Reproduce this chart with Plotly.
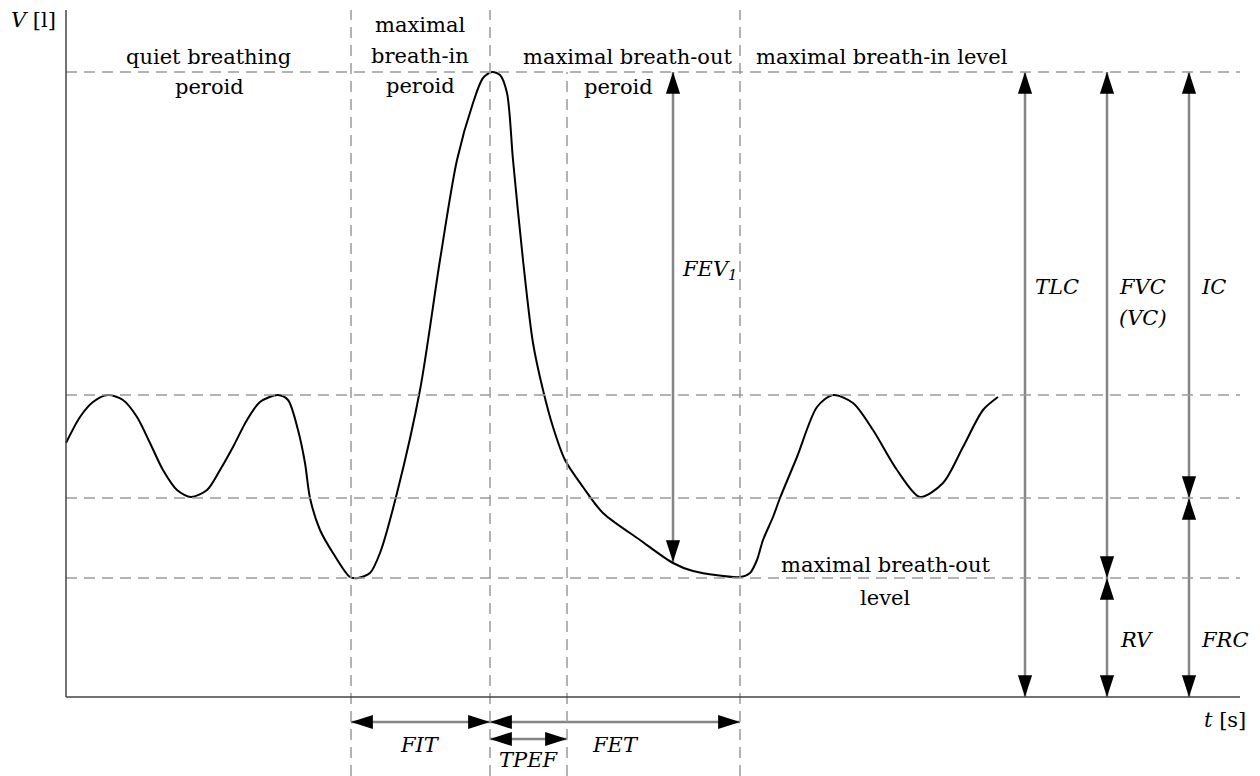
import plotly.graph_objects as go

# spirogram trace (t in s, V in l)
t_curve = [0.00, 0.14, 0.27, 0.42, 0.57, 0.71, 0.84, 0.97, 1.11, 1.25, 1.41, 1.54, 1.67, 1.81,
           1.94, 2.12, 2.22, 2.32, 2.39, 2.44, 2.54, 2.67, 2.84, 2.92, 3.04, 3.14, 3.31, 3.54,
           3.74, 3.91, 4.07, 4.17, 4.26, 4.34, 4.41, 4.47, 4.57, 4.67, 4.77, 4.87, 4.99, 5.17,
           5.37, 5.74, 6.07, 6.27, 6.74, 6.84, 6.91, 6.97, 7.07, 7.14, 7.31, 7.51, 7.67, 7.87,
           8.07, 8.31, 8.54, 8.77, 8.97, 9.17, 9.32]
v_curve = [2.54, 2.80, 2.95, 3.02, 2.97, 2.80, 2.54, 2.27, 2.07, 2.00, 2.07, 2.27, 2.50, 2.77,
           2.95, 3.02, 2.97, 2.67, 2.34, 1.99, 1.67, 1.44, 1.20, 1.19, 1.24, 1.44, 2.04, 3.07,
           4.37, 5.37, 5.94, 6.19, 6.25, 6.22, 6.04, 5.37, 4.37, 3.54, 3.07, 2.70, 2.37, 2.10,
           1.84, 1.57, 1.34, 1.26, 1.20, 1.24, 1.37, 1.57, 1.80, 1.99, 2.40, 2.90, 3.02, 2.94,
           2.67, 2.27, 2.00, 2.14, 2.50, 2.87, 3.00]

# volume levels
levels = [6.25, 3.02, 1.99, 1.19]  # TLC, tidal top, FRC, RV
# phase boundaries in time
phase_t = [2.85, 4.24, 5.01, 6.74]
phase_top = [6.87, 6.87, 6.25, 6.87]

# vertical double arrows: name, t, lower V, upper V
v_arrows = [
    ("TLC", 9.59, 0.0, 6.25),
    ("FVC", 10.41, 1.19, 6.25),
    ("RV", 10.41, 0.0, 1.19),
    ("IC", 11.23, 1.99, 6.25),
    ("FRC", 11.23, 0.0, 1.99),
    ("FEV1", 6.07, 1.35, 6.25),
]
# horizontal double arrows: name, V, left t, right t
h_arrows = [
    ("FIT", -0.25, 2.85, 4.24),
    ("FET", -0.25, 4.24, 6.74),
    ("TPEF", -0.42, 4.24, 5.01),
]

T_MAX = 11.74
V_MAX = 6.87
V_MIN = -0.79

fig = go.Figure()

# dashed guide lines
for lv in levels:
    fig.add_shape(type="line", x0=0, x1=T_MAX, y0=lv, y1=lv,
                  line=dict(color="#9a9a9a", width=1.5, dash="11px,7px"))
for pt, top in zip(phase_t, phase_top):
    fig.add_shape(type="line", x0=pt, x1=pt, y0=V_MIN, y1=top,
                  line=dict(color="#9a9a9a", width=1.5, dash="11px,7px"))

# axes
fig.add_shape(type="line", x0=0, x1=0, y0=0, y1=V_MAX, line=dict(color="#444", width=1.5))
fig.add_shape(type="line", x0=0, x1=T_MAX, y0=0, y1=0, line=dict(color="#444", width=1.5))

# arrow shafts
ax, ay = [], []
for _, t, lo, hi in v_arrows:
    ax += [t, t, None]
    ay += [lo, hi, None]
for _, v, lft, rgt in h_arrows:
    ax += [lft, rgt, None]
    ay += [v, v, None]
fig.add_trace(go.Scatter(x=ax, y=ay, mode="lines", line=dict(color="#858585", width=2.5),
                         hoverinfo="skip"))

# arrow heads
hx, hy, hang = [], [], []
for _, t, lo, hi in v_arrows:
    hx += [t, t]
    hy += [lo, hi]
    hang += [180, 0]
for _, v, lft, rgt in h_arrows:
    hx += [lft, rgt]
    hy += [v, v]
    hang += [270, 90]
fig.add_trace(go.Scatter(x=hx, y=hy, mode="markers",
                         marker=dict(symbol="arrow", size=23, angle=hang, color="black",
                                     line=dict(width=0)),
                         hoverinfo="skip"))

# curve
fig.add_trace(go.Scatter(x=t_curve, y=v_curve, mode="lines",
                         line=dict(color="black", width=2, shape="spline", smoothing=0.8),
                         hoverinfo="skip"))

FONT = dict(family="DejaVu Serif", size=21, color="black")


def label(text, x, y, xanchor="center"):
    fig.add_annotation(x=x, y=y, text=text, showarrow=False, xanchor=xanchor,
                       yanchor="middle", font=FONT)


label("<i>V</i> [l]", -0.08, 6.77, "right")
label("quiet breathing", 1.42, 6.40)
label("peroid", 1.43, 6.10)
label("maximal", 3.54, 6.72)
label("breath-in", 3.54, 6.41)
label("peroid", 3.54, 6.11)
label("maximal breath-out", 5.61, 6.40)
label("peroid", 5.52, 6.10)
label("maximal breath-in level", 8.16, 6.40)
label("maximal breath-out", 8.19, 1.32)
label("level", 8.19, 0.99)
label("<i>FEV<sub>1</sub></i>", 6.14, 4.27, "left")
label("<i>TLC</i>", 9.67, 4.10, "left")
label("<i>FVC</i>", 10.51, 4.10, "left")
label("<i>(VC)</i>", 10.51, 3.79, "left")
label("<i>IC</i>", 11.33, 4.10, "left")
label("<i>RV</i>", 10.52, 0.57, "left")
label("<i>FRC</i>", 11.33, 0.57, "left")
label("<i>t</i> [s]", 11.82, -0.23, "right")
label("<i>FIT</i>", 3.54, -0.48)
label("<i>FET</i>", 5.49, -0.48)
label("<i>TPEF</i>", 4.62, -0.63)

fig.update_layout(
    width=1260,
    height=776,
    margin=dict(l=0, r=0, t=0, b=0),
    plot_bgcolor="white",
    paper_bgcolor="white",
    showlegend=False,
    xaxis=dict(range=[-0.66, 11.94], visible=False, fixedrange=True),
    yaxis=dict(range=[V_MIN, 6.97], visible=False, fixedrange=True),
)

fig.write_html("out.html", config={"displayModeBar": False},
               post_script="document.body.style.margin='0';")
